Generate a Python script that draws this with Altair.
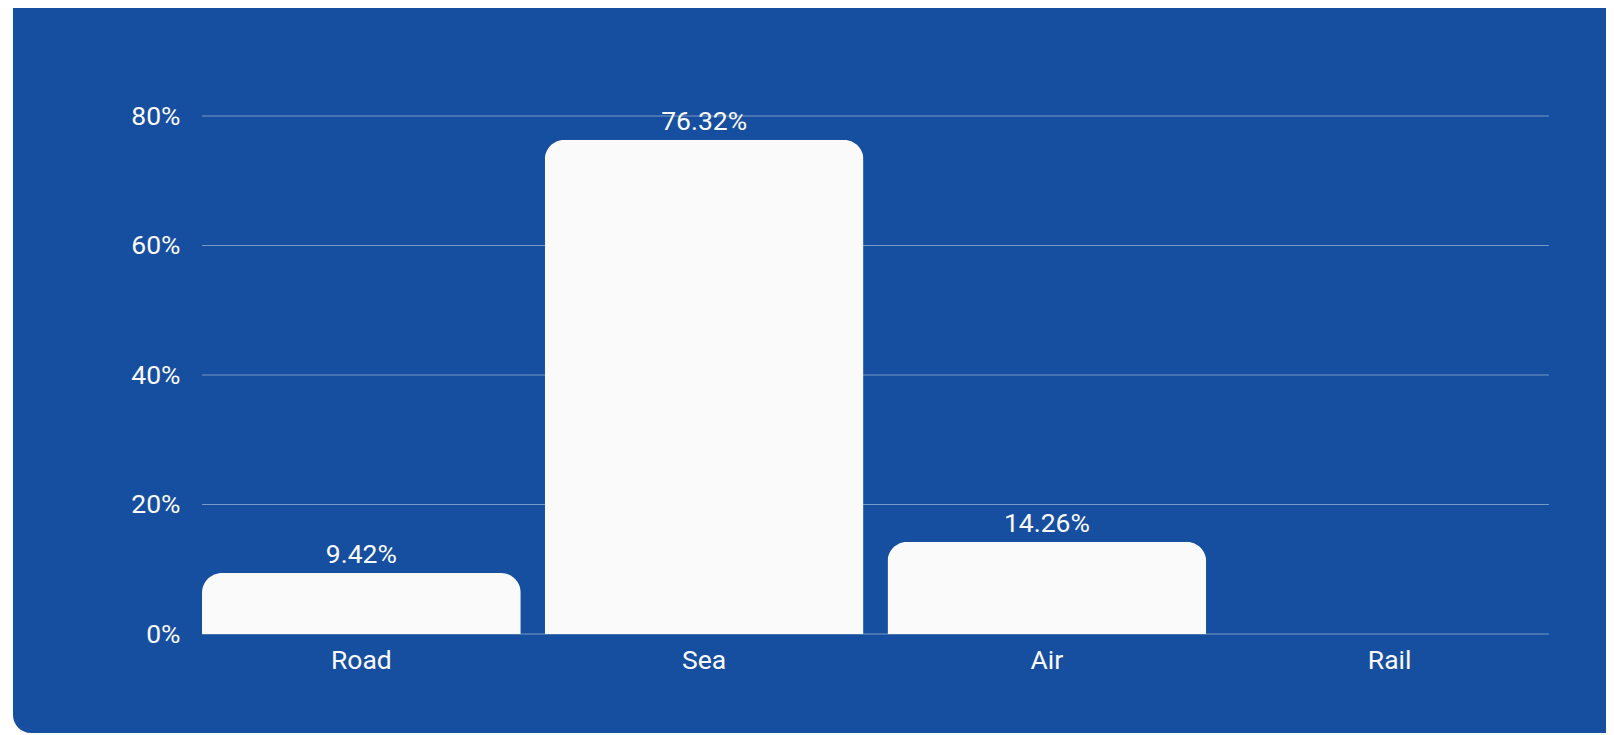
import altair as alt
import pandas as pd

modes = ["Road", "Sea", "Air", "Rail"]
shares = [9.42, 76.32, 14.26, 0.0]
y_ticks = [0, 20, 40, 60, 80]

BLUE = "#174FA0"
WHITE = "#FAFAFA"
FONT = "Roboto"
FS = 26.5

df = pd.DataFrame({"mode": modes, "share": shares})
grid_df = pd.DataFrame({"share": y_ticks})
bg_df = pd.DataFrame({"a": [0]})

W, H = 1347, 518

x_scale = alt.Scale(paddingInner=0.07, paddingOuter=0)
x_axis = alt.Axis(
    labelAngle=0, ticks=False, domain=False, grid=False,
    labelFont=FONT, labelFontSize=FS, labelColor=WHITE,
    labelPadding=13, zindex=1,
)
y_scale = alt.Scale(domain=[0, 80], nice=False)
y_axis = alt.Axis(
    values=y_ticks, ticks=False, domain=False, grid=False,
    labelExpr="datum.value + '%'",
    labelFont=FONT, labelFontSize=FS, labelColor=WHITE,
    labelPadding=22, zindex=1,
)

background = alt.Chart(bg_df).mark_rect(
    color=BLUE, cornerRadiusBottomLeft=18
).encode(
    x=alt.value(-189), x2=alt.value(1500),
    y=alt.value(-130), y2=alt.value(617),
)

grid = alt.Chart(grid_df).mark_rule(
    color="#ffffff", opacity=0.42, strokeWidth=1
).encode(
    y=alt.Y("share:Q", title=None, scale=y_scale, axis=y_axis)
)

bars = alt.Chart(df).mark_bar(
    color=WHITE, cornerRadiusTopLeft=20, cornerRadiusTopRight=20
).encode(
    x=alt.X("mode:N", sort=modes, title=None, scale=x_scale, axis=x_axis),
    y=alt.Y("share:Q", title=None, scale=y_scale, axis=y_axis),
)

labels = alt.Chart(df).transform_filter(
    "datum.share > 0"
).transform_calculate(
    lab="format(datum.share, '.2f') + '%'"
).mark_text(
    font=FONT, fontSize=FS, color=WHITE, baseline="alphabetic", dy=-10
).encode(
    x=alt.X("mode:N", sort=modes, title=None, scale=x_scale, axis=x_axis),
    y=alt.Y("share:Q", title=None, scale=y_scale, axis=y_axis),
    text="lab:N",
)

chart = alt.layer(background, grid, bars, labels).properties(
    width=W, height=H,
    autosize=alt.AutoSizeParams(type="none"),
    padding={"left": 194, "top": 108, "right": 57, "bottom": 99},
    background="#ffffff",
).configure_view(stroke=None)

chart.save("out.html", embed_options={"renderer": "svg", "actions": False})
